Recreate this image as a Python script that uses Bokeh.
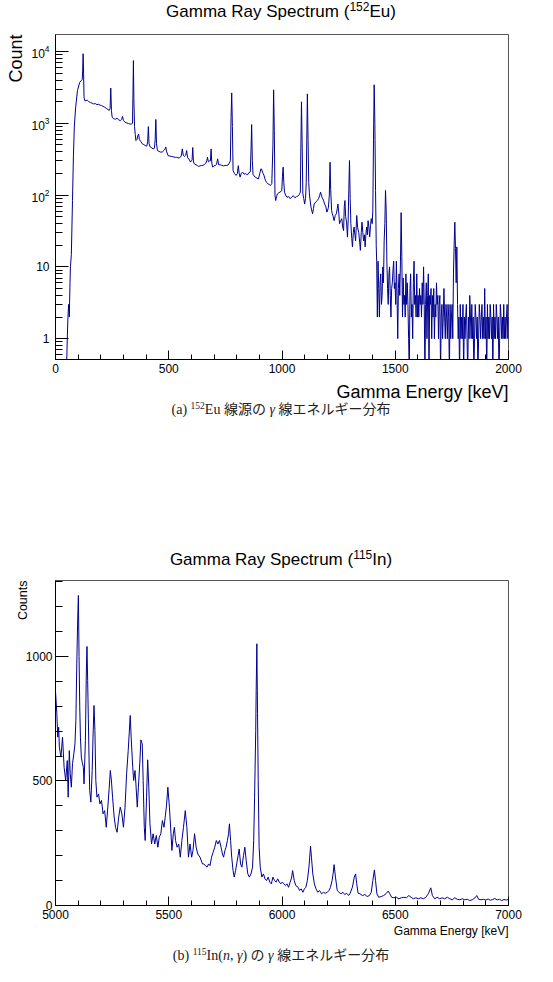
import numpy as np
from bokeh.plotting import figure
from bokeh.models import Div, SingleIntervalTicker, FixedTicker, LogTickFormatter, Title
from bokeh.layouts import column
from bokeh.embed import file_html
from bokeh.resources import INLINE

# ---------------- Eu-152 spectrum (energy keV, counts) ----------------
EU_E_LOW = [0, 40, 48, 52, 55, 58, 61, 64, 66, 70,
            75, 79, 83, 89, 97, 107, 115, 118, 120, 122,
            124, 126, 130, 135]
EU_C_LOW = [0, 0, 0, 1, 2, 3, 2, 6, 10, 15,
            84, 340, 890, 1680, 2860, 3730, 3970, 4100, 5500, 9300,
            5000, 2300, 2050, 2080]

EU_E_MID = [141, 147, 155, 162, 169, 176, 183, 190, 197, 203,
            210, 217, 224, 231, 237, 241, 244, 247, 250, 255,
            259, 265, 272, 278, 286, 292, 296, 300, 307, 315,
            322, 328, 334, 340, 342, 344, 346, 349, 352, 355,
            360, 364, 367, 370, 376, 383, 390, 396, 403, 407,
            410, 413, 418, 425, 431, 437, 440, 443, 446, 450]
EU_C_MID = [2090, 2000, 1950, 1900, 1860, 1880, 1820, 1840, 1790, 1770,
            1720, 1680, 1620, 1560, 1510, 1600, 3090, 1500, 1220, 1170,
            1150, 1140, 1180, 1120, 1090, 1130, 1245, 1100, 1035, 1010,
            990, 980, 975, 1000, 2500, 7480, 2200, 900, 700, 575,
            600, 680, 710, 600, 560, 518, 505, 490, 480, 560,
            900, 520, 468, 455, 440, 450, 600, 1130, 520, 418]

EU_E_600 = [457, 465, 472, 479, 484, 487, 490, 497, 505, 514,
            522, 529, 534, 541, 548, 555, 560, 564, 569, 575,
            579, 583, 589, 596, 600, 603, 606, 609, 613, 620,
            626, 631, 638, 645, 652, 657, 663, 668, 671, 675,
            680, 684, 687, 690, 694, 699, 706, 711, 716, 720,
            727, 734, 741, 748, 755, 762, 767, 772]
EU_C_600 = [405, 396, 400, 420, 440, 468, 410, 355, 350, 344,
            340, 335, 337, 330, 330, 350, 440, 360, 345, 360,
            418, 330, 320, 288, 300, 310, 460, 290, 272, 265,
            258, 251, 255, 258, 260, 267, 275, 300, 337, 290,
            300, 300, 440, 280, 245, 255, 258, 270, 320, 265,
            265, 260, 255, 258, 258, 262, 279, 300]

EU_E_900 = [775, 778, 781, 784, 790, 797, 803, 807, 811, 815,
            820, 826, 833, 840, 847, 854, 860, 863, 866, 869,
            872, 877, 882, 889, 896, 902, 907, 910, 915, 920,
            927, 932, 938, 944, 949, 955, 960, 963, 966, 969,
            972, 976, 980, 986, 991, 999]
EU_C_900 = [1200, 2650, 900, 220, 200, 188, 200, 257, 200, 178,
            200, 209, 195, 200, 190, 205, 210, 400, 960, 300,
            195, 185, 178, 172, 168, 200, 232, 230, 205, 190,
            160, 150, 144, 140, 136, 145, 500, 2920, 800, 100,
            84, 95, 104, 108, 110, 115]

EU_E_HIGH = [1002, 1005, 1008, 1011, 1016, 1022, 1029, 1036, 1043, 1050,
             1057, 1064, 1070, 1076, 1081, 1083, 1086, 1089, 1092, 1096,
             1100, 1104, 1107, 1110, 1112, 1115, 1118, 1121, 1125, 1128,
             1132, 1135, 1139, 1142, 1149, 1156, 1162, 1167, 1170, 1174,
             1177, 1183, 1188, 1193, 1198, 1202, 1205, 1209, 1212, 1215,
             1219, 1222, 1226, 1230, 1235, 1240, 1244, 1247, 1251, 1254,
             1259, 1264, 1268, 1272, 1275, 1278, 1281, 1285, 1289, 1292,
             1295, 1298, 1301, 1304, 1308, 1311, 1315, 1318, 1322, 1325,
             1330, 1334, 1339, 1343, 1346, 1350, 1353, 1357, 1360, 1364,
             1367, 1371, 1374, 1377, 1380, 1384, 1387, 1391, 1394, 1398,
             1401, 1404, 1407, 1410, 1413, 1416]
EU_C_HIGH = [180, 245, 150, 110, 100, 93, 96, 89, 94, 98,
             92, 95, 97, 101, 110, 400, 1990, 500, 104, 90,
             75, 90, 150, 800, 2570, 600, 150, 104, 80, 68,
             60, 55, 65, 75, 80, 84, 90, 100, 110, 100,
             93, 85, 75, 70, 58, 62, 68, 100, 287, 120,
             61, 55, 50, 44, 52, 55, 65, 75, 55, 40,
             44, 47, 36, 32, 70, 84, 50, 42, 26, 44,
             120, 303, 90, 40, 25, 19, 30, 36, 28, 23,
             52, 35, 30, 22, 17, 30, 42, 30, 23, 28,
             19, 30, 36, 28, 44, 35, 26, 38, 47, 40,
             60, 600, 3440, 1000, 116, 20]

# tail: 3 keV bins starting at 1418 keV
EU_TAIL_START = 1418
EU_TAIL_BIN = 3
EU_C_TAIL = [12, 2, 12, 5, 2, 6, 8, 3, 4, 10,
             6, 23, 40, 116, 60, 12, 5, 3, 8, 10,
             4, 2, 5, 6, 9, 12, 5, 6, 3, 12,
             4, 1, 5, 8, 4, 12, 57, 14, 2, 7,
             3, 4, 2, 8, 3, 6, 3, 1, 0, 5,
             8, 2, 3, 1, 6, 12, 3, 4, 2, 8,
             2, 4, 2, 5, 3, 4, 2, 6, 3, 10,
             3, 0, 3, 6, 1, 4, 8, 0, 4, 3,
             5, 1, 4, 2, 5, 1, 3, 2, 6, 3,
             4, 1, 3, 4, 0, 2, 3, 1, 2, 5,
             2, 1, 3, 2, 1, 3, 2, 0, 3, 1,
             2, 3, 1, 8, 20, 42, 18, 6, 19, 3,
             1, 2, 0, 3, 1, 2, 1, 3, 0, 2,
             1, 2, 3, 1, 0, 2, 1, 4, 2, 1,
             3, 1, 2, 0, 1, 3, 2, 1, 2, 0,
             1, 3, 2, 1, 2, 3, 1, 2, 1, 5,
             1, 2, 0, 3, 1, 2, 1, 3, 2, 1,
             2, 0, 3, 1, 2, 1, 3, 2, 1, 2,
             0, 1, 3, 2, 1, 2, 1, 3, 1, 2,
             1, 2, 3, 1, 2]

# ---------------- In-115(n,gamma) spectrum (energy keV, counts) ----------------
IN_E_1 = [5000, 5006, 5010, 5014, 5017, 5024, 5031, 5038, 5045, 5052,
          5056, 5061, 5065, 5070, 5075, 5081, 5086, 5090, 5094, 5098,
          5101, 5104, 5107, 5110, 5114, 5118, 5123, 5126, 5132, 5136,
          5139, 5142, 5145, 5148, 5151, 5156, 5162, 5166, 5170, 5174,
          5178, 5183, 5190, 5196, 5203, 5210, 5217, 5224, 5231, 5237,
          5242, 5247, 5252, 5259, 5265, 5272, 5279, 5286, 5293, 5300]
IN_C_1 = [860, 770, 676, 716, 636, 596, 676, 555, 502, 582,
          435, 622, 529, 475, 569, 609, 649, 743, 970, 1150,
          1245, 1000, 800, 676, 596, 575, 555, 488, 662, 930,
          1040, 903, 750, 596, 462, 415, 542, 689, 803, 703,
          502, 435, 448, 408, 422, 368, 381, 314, 395, 470,
          542, 500, 435, 355, 314, 294, 355, 395, 368, 314]

IN_E_2 = [5307, 5314, 5321, 5326, 5330, 5334, 5341, 5345, 5351, 5355,
          5361, 5366, 5372, 5377, 5383, 5387, 5392, 5396, 5402, 5407,
          5412, 5417, 5424, 5431, 5438, 5445, 5452, 5458, 5465, 5472,
          5479, 5485, 5490, 5496, 5503, 5510, 5514, 5520, 5525, 5530,
          5537, 5544, 5551, 5558, 5565, 5573, 5580, 5587, 5594, 5601,
          5607, 5614, 5621, 5628, 5638, 5649]
IN_C_2 = [395, 529, 622, 700, 763, 676, 555, 502, 542, 488,
          395, 475, 569, 665, 649, 502, 314, 261, 435, 585,
          475, 328, 247, 288, 247, 281, 234, 274, 288, 341,
          314, 360, 400, 475, 395, 288, 221, 288, 314, 261,
          234, 247, 194, 261, 314, 381, 314, 194, 247, 194,
          221, 288, 234, 207, 194, 167]

IN_E_3 = [5655, 5662, 5669, 5676, 5682, 5689, 5696, 5703, 5710, 5717,
          5724, 5731, 5737, 5742, 5748, 5753, 5759, 5764, 5768, 5773,
          5778, 5784, 5789, 5795, 5800, 5806, 5811, 5817, 5823, 5830,
          5836, 5842, 5849, 5856, 5863, 5870, 5875, 5879, 5884, 5886,
          5889, 5892, 5895, 5899, 5904, 5911, 5918, 5925, 5932, 5939]
IN_C_3 = [167, 160, 154, 167, 160, 194, 214, 234, 261, 247,
          261, 234, 207, 194, 221, 234, 261, 288, 328, 261,
          194, 140, 114, 140, 167, 200, 227, 167, 154, 200,
          234, 180, 127, 114, 127, 154, 261, 435, 703, 863,
          1051, 770, 502, 234, 154, 114, 127, 107, 100, 114]

IN_E_4 = [5946, 5953, 5960, 5967, 5974, 5981, 5988, 5995, 6001, 6008,
          6015, 6022, 6029, 6036, 6042, 6047, 6054, 6061, 6071, 6078,
          6085, 6092, 6099, 6105, 6112, 6119, 6126, 6130, 6136, 6143,
          6150, 6158, 6166, 6175, 6183, 6191, 6200, 6207, 6214, 6221,
          6226, 6230, 6236, 6244, 6252, 6261, 6269, 6277, 6286, 6294]
IN_C_4 = [94, 87, 114, 100, 94, 107, 94, 87, 94, 87,
          80, 87, 73, 94, 110, 140, 100, 80, 73, 60,
          67, 53, 67, 73, 100, 154, 238, 194, 127, 87,
          67, 53, 60, 47, 53, 49, 53, 60, 73, 100,
          130, 164, 114, 60, 53, 47, 53, 44, 49, 40]

IN_E_5 = [6300, 6311, 6319, 6325, 6330, 6336, 6344, 6355, 6366, 6376,
          6386, 6394, 6401, 6408, 6413, 6419, 6427, 6438, 6449, 6459,
          6469, 6476, 6484, 6494, 6505, 6516, 6527, 6538, 6549, 6560,
          6570, 6580, 6591, 6602, 6613, 6624, 6635, 6646, 6657, 6664,
          6674, 6685, 6696, 6707, 6718, 6730, 6741, 6752, 6763, 6774,
          6785, 6796, 6807, 6818, 6829, 6840, 6852, 6860, 6868, 6879,
          6890, 6900, 6910, 6920, 6930, 6940, 6950, 6960, 6970, 6980,
          6990, 7000]
IN_C_5 = [47, 74, 114, 127, 87, 49, 47, 40, 44, 36,
          40, 53, 100, 143, 100, 47, 33, 36, 40, 47,
          58, 47, 33, 31, 33, 27, 31, 33, 31, 40,
          33, 27, 31, 27, 31, 27, 33, 47, 71, 40,
          27, 33, 27, 31, 27, 33, 27, 23, 31, 25,
          23, 27, 23, 25, 20, 23, 31, 40, 25, 23,
          25, 22, 26, 21, 24, 28, 22, 25, 20, 24,
          22, 24]

X_TICKS_A = [0, 500, 1000, 1500, 2000]
X_TICKS_B = [5000, 5500, 6000, 6500, 7000]

# ---------------------------------------------------------------------
LINE = "#000090"
SANS = "Liberation Sans"

eu_e = EU_E_LOW + EU_E_MID + EU_E_600 + EU_E_900 + EU_E_HIGH
eu_c = EU_C_LOW + EU_C_MID + EU_C_600 + EU_C_900 + EU_C_HIGH
assert len(eu_e) == len(eu_c)
tail_e = [EU_TAIL_START + EU_TAIL_BIN * i for i in range(len(EU_C_TAIL))]
eu_e = np.array(eu_e + tail_e, dtype=float)
eu_c = np.array(eu_c + EU_C_TAIL, dtype=float)
eu_c_plot = np.where(eu_c > 0, eu_c, 0.3)   # empty bins drop below the frame

in_e = IN_E_1 + IN_E_2 + IN_E_3 + IN_E_4 + IN_E_5
in_c = IN_C_1 + IN_C_2 + IN_C_3 + IN_C_4 + IN_C_5
assert len(in_e) == len(in_c)


def style(p, y_major_in, y_minor_in, y_standoff):
    p.xgrid.visible = False
    p.ygrid.visible = False
    p.outline_line_color = "#555555"
    p.outline_line_width = 1
    p.background_fill_color = "white"
    p.border_fill_color = "white"
    for ax in p.xaxis:
        ax.major_tick_in = 9
        ax.major_tick_out = 0
        ax.minor_tick_in = 5
        ax.minor_tick_out = 0
        ax.major_label_standoff = 4
        ax.major_label_text_font = SANS
        ax.major_label_text_font_size = "12px"
        ax.major_label_text_color = "black"
        ax.axis_line_color = "black"
        ax.major_tick_line_color = "black"
        ax.minor_tick_line_color = "black"
    for ax in p.yaxis:
        ax.major_tick_in = y_major_in
        ax.major_tick_out = 0
        ax.minor_tick_in = y_minor_in
        ax.minor_tick_out = 0
        ax.major_label_standoff = y_standoff
        ax.major_label_text_font = SANS
        ax.major_label_text_font_size = "12px"
        ax.major_label_text_color = "black"
        ax.axis_line_color = "black"
        ax.major_tick_line_color = "black"
        ax.minor_tick_line_color = "black"


def side_title(p, text, size, place, standoff):
    p.add_layout(Title(text=text, align="right", text_font=SANS,
                       text_font_size=size, text_font_style="normal",
                       text_color="black", standoff=standoff), place)


# ---------------- panel (a) ----------------
fig_a = figure(width=553, height=379, title=None,
               x_range=(0, 2000), y_range=(0.513, 17250), y_axis_type="log",
               min_border_left=55, min_border_right=45,
               min_border_top=4, min_border_bottom=50,
               output_backend="svg", toolbar_location=None)
fig_a.xaxis.ticker = FixedTicker(ticks=X_TICKS_A,
                                 minor_ticks=list(range(0, 2001, 100)))
fig_a.yaxis.ticker = FixedTicker(
    ticks=[1, 10, 100, 1000, 10000],
    minor_ticks=[m * 10.0 ** k for k in range(-1, 5) for m in range(2, 10)])
fig_a.yaxis.formatter = LogTickFormatter(min_exponent=1)
fig_a.yaxis.major_label_overrides = {1: "1", 10: "10"}
style(fig_a, 13, 7, 6)
side_title(fig_a, "Gamma Energy [keV]", "18px", "below", 8)
side_title(fig_a, "Count", "18px", "left", 5)
fig_a.line(eu_e, eu_c_plot, line_color=LINE, line_width=1)

# ---------------- panel (b) ----------------
fig_b = figure(width=553, height=369, title=None,
               x_range=(5000, 7000), y_range=(0, 1305),
               min_border_left=55, min_border_right=45,
               min_border_top=4, min_border_bottom=40,
               output_backend="svg", toolbar_location=None)
fig_b.xaxis.ticker = FixedTicker(ticks=X_TICKS_B,
                                 minor_ticks=list(range(5000, 7001, 100)))
fig_b.yaxis.ticker = SingleIntervalTicker(interval=500, num_minor_ticks=5)
style(fig_b, 13, 7, 3)
side_title(fig_b, "Gamma Energy [keV]", "12px", "below", 0)
side_title(fig_b, "Counts", "12.5px", "left", -14)
fig_b.line(in_e, in_c, line_color=LINE, line_width=1)

# ---------------- titles & captions ----------------
SUP = "font-size:12px;line-height:0;vertical-align:baseline;position:relative;top:-6px"
CSUP = "font-size:9.5px;line-height:0;vertical-align:baseline;position:relative;top:-5px"


def title_div(inner, pad_top, h):
    html = ('<div style="box-sizing:border-box;width:553px;padding-left:9px;'
            f'padding-top:{pad_top}px;text-align:center;font-family:\'Liberation Sans\';'
            'font-size:17px;line-height:20px;color:#000;white-space:nowrap">'
            f'{inner}</div>')
    return Div(text=html, width=553, height=h, margin=0)


def caption_div(inner, shift, h):
    html = ('<div style="box-sizing:border-box;width:553px;padding-left:9px;'
            f'position:relative;top:{shift}px;text-align:center;'
            'font-family:\'Liberation Serif\',\'Noto Sans CJK JP\';'
            'font-size:14px;line-height:16px;color:#222;white-space:nowrap">'
            f'{inner}</div>')
    return Div(text=html, width=553, height=h, margin=0)


div_ta = title_div(f'Gamma Ray Spectrum (<sup style="{SUP}">152</sup>Eu)', 2, 30)
div_ca = caption_div(f'(a) <sup style="{CSUP}">152</sup>Eu 線源の <i>γ</i> 線エネルギー分布', -7, 131)
div_tb = title_div(f'Gamma Ray Spectrum (<sup style="{SUP}">115</sup>In)', 10, 36)
div_cb = caption_div(f'(b) <sup style="{CSUP}">115</sup>In(<i>n</i>, <i>γ</i>) の <i>γ</i> 線エネルギー分布', 3, 37)

for m in (fig_a, fig_b):
    m.margin = 0

layout = column(div_ta, fig_a, div_ca, div_tb, fig_b, div_cb, spacing=0)

open("out.html", "w").write(file_html(layout, INLINE))
